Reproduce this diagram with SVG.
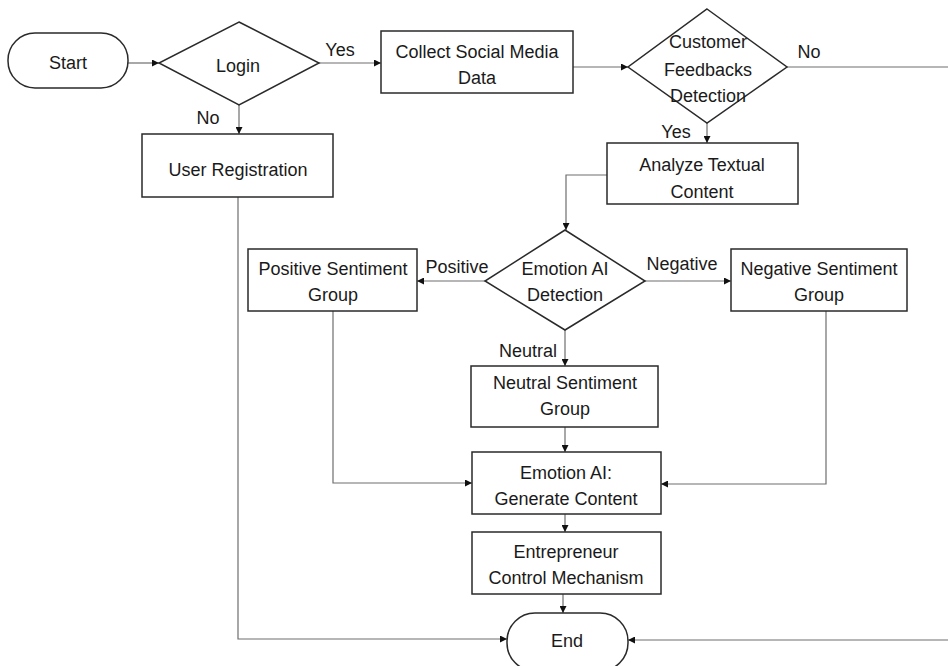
<svg xmlns="http://www.w3.org/2000/svg" width="948" height="666" viewBox="0 0 948 666">
<style>
.n{fill:#fff;stroke:#2a2a2a;stroke-width:1.5}
.t{font-family:"Liberation Sans",Arial,sans-serif;font-size:18px;fill:#1a1a1a;text-anchor:middle}
.c{fill:none;stroke:#6e6e6e;stroke-width:1.2}
</style>
<defs>
<marker id="a" viewBox="0 0 10 10" refX="10" refY="5" markerWidth="7" markerHeight="7" markerUnits="userSpaceOnUse" orient="auto">
<path d="M0,0 L10,5 L0,10 z" fill="#111"/>
</marker>
</defs>
<rect width="948" height="666" fill="#fff"/>
<g id="connectors">
<path class="c" d="M128,63 H159" marker-end="url(#a)"/>
<path class="c" d="M319,63 H381" marker-end="url(#a)"/>
<path class="c" d="M239,105 V134" marker-end="url(#a)"/>
<path class="c" d="M573,67 H628" marker-end="url(#a)"/>
<path class="c" d="M787,67 H948"/>
<path class="c" d="M707,123 V143" marker-end="url(#a)"/>
<path class="c" d="M607,175 H566 V230" marker-end="url(#a)"/>
<path class="c" d="M485,281 H417" marker-end="url(#a)"/>
<path class="c" d="M645,281 H731" marker-end="url(#a)"/>
<path class="c" d="M565,330 V366" marker-end="url(#a)"/>
<path class="c" d="M565,427 V452" marker-end="url(#a)"/>
<path class="c" d="M333,311 V483 H472" marker-end="url(#a)"/>
<path class="c" d="M826,311 V484 H661" marker-end="url(#a)"/>
<path class="c" d="M565,514 V532" marker-end="url(#a)"/>
<path class="c" d="M563,594 V613" marker-end="url(#a)"/>
<path class="c" d="M238,197 V639 H507" marker-end="url(#a)"/>
<path class="c" d="M948,640 H628" marker-end="url(#a)"/>
<text class="t" x="340" y="56">Yes</text>
<text class="t" x="208" y="124">No</text>
<text class="t" x="809" y="58">No</text>
<text class="t" x="676" y="138">Yes</text>
<text class="t" x="457" y="273">Positive</text>
<text class="t" x="682" y="270">Negative</text>
<text class="t" x="528" y="357">Neutral</text>
</g>
<g id="start">
<rect class="n" x="8" y="33" width="120" height="55" rx="27" ry="27"/>
<text class="t" x="68" y="69">Start</text>
</g>
<g id="login">
<polygon class="n" points="239,22 319,63 239,105 159,63"/>
<text class="t" x="238" y="72">Login</text>
</g>
<g id="registration">
<rect class="n" x="142" y="134" width="191" height="63"/>
<text class="t" x="238" y="176">User Registration</text>
</g>
<g id="collect">
<rect class="n" x="381" y="31" width="192" height="62"/>
<text class="t" x="477" y="58">Collect Social Media</text>
<text class="t" x="477" y="84">Data</text>
</g>
<g id="feedback">
<polygon class="n" points="707,9 787,67 707,123 628,67"/>
<text class="t" x="708" y="48">Customer</text>
<text class="t" x="708" y="76">Feedbacks</text>
<text class="t" x="708" y="102">Detection</text>
</g>
<g id="analyze">
<rect class="n" x="607" y="143" width="191" height="61"/>
<text class="t" x="702" y="171">Analyze Textual</text>
<text class="t" x="702" y="198">Content</text>
</g>
<g id="emotion-detection">
<polygon class="n" points="565,230 645,281 565,330 485,281"/>
<text class="t" x="565" y="275">Emotion AI</text>
<text class="t" x="565" y="301">Detection</text>
</g>
<g id="positive">
<rect class="n" x="248" y="249" width="169" height="62"/>
<text class="t" x="333" y="275">Positive Sentiment</text>
<text class="t" x="333" y="301">Group</text>
</g>
<g id="negative">
<rect class="n" x="731" y="249" width="176" height="62"/>
<text class="t" x="819" y="275">Negative Sentiment</text>
<text class="t" x="819" y="301">Group</text>
</g>
<g id="neutral">
<rect class="n" x="471" y="366" width="187" height="61"/>
<text class="t" x="565" y="389">Neutral Sentiment</text>
<text class="t" x="565" y="415">Group</text>
</g>
<g id="generate">
<rect class="n" x="472" y="452" width="189" height="62"/>
<text class="t" x="566" y="479">Emotion AI:</text>
<text class="t" x="566" y="505">Generate Content</text>
</g>
<g id="entrepreneur">
<rect class="n" x="472" y="532" width="189" height="62"/>
<text class="t" x="566" y="558">Entrepreneur</text>
<text class="t" x="566" y="584">Control Mechanism</text>
</g>
<g id="end">
<rect class="n" x="507" y="613" width="121" height="58" rx="28" ry="28"/>
<text class="t" x="567" y="647">End</text>
</g>
</svg>
